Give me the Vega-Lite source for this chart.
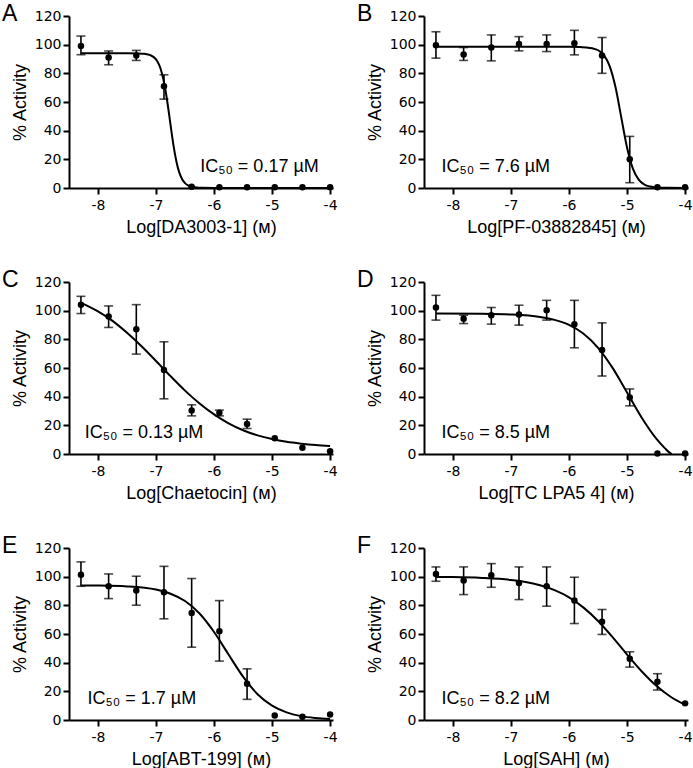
{
"$schema":"https://vega.github.io/schema/vega-lite/v6.json",
"background":"white",
"padding":{"left":2,"top":3,"right":0,"bottom":0},
"columns":2,
"spacing":{"row":33,"column":19},
"datasets":{
"pts":[
{"p":"A","x":-8.294,"y":99,"lo":93,"hi":106},
{"p":"A","x":-7.817,"y":91,"lo":86,"hi":95.6},
{"p":"A","x":-7.34,"y":92.5,"lo":89,"hi":96},
{"p":"A","x":-6.863,"y":71,"lo":62,"hi":79},
{"p":"A","x":-6.386,"y":0.8},
{"p":"A","x":-5.908,"y":0.5},
{"p":"A","x":-5.431,"y":0.5},
{"p":"A","x":-4.954,"y":0.5},
{"p":"A","x":-4.477,"y":0.5},
{"p":"A","x":-4.0,"y":0.5},
{"p":"B","x":-8.294,"y":99.6,"lo":90.6,"hi":109},
{"p":"B","x":-7.817,"y":93.2,"lo":89,"hi":98},
{"p":"B","x":-7.34,"y":98,"lo":88.7,"hi":106.8},
{"p":"B","x":-6.863,"y":100.5,"lo":95.7,"hi":105.6},
{"p":"B","x":-6.386,"y":100.5,"lo":95.2,"hi":106.8},
{"p":"B","x":-5.908,"y":101,"lo":92.9,"hi":110},
{"p":"B","x":-5.431,"y":92.5,"lo":80,"hi":105},
{"p":"B","x":-4.954,"y":20,"lo":3.7,"hi":36},
{"p":"B","x":-4.477,"y":0.5},
{"p":"B","x":-4.0,"y":0.5},
{"p":"C","x":-8.294,"y":104.2,"lo":98,"hi":110},
{"p":"C","x":-7.817,"y":96,"lo":88.3,"hi":103.3},
{"p":"C","x":-7.34,"y":87,"lo":69.7,"hi":104.2},
{"p":"C","x":-6.863,"y":58.6,"lo":38.5,"hi":78.3},
{"p":"C","x":-6.386,"y":30.3,"lo":26.6,"hi":34.3},
{"p":"C","x":-5.908,"y":28.7,"lo":26.6,"hi":30.6},
{"p":"C","x":-5.431,"y":21,"lo":17.8,"hi":24.3},
{"p":"C","x":-4.954,"y":11},
{"p":"C","x":-4.477,"y":4.4},
{"p":"C","x":-4.0,"y":2},
{"p":"D","x":-8.294,"y":102.2,"lo":93.4,"hi":110.7},
{"p":"D","x":-7.817,"y":94.3,"lo":91,"hi":96.8},
{"p":"D","x":-7.34,"y":96.8,"lo":90.6,"hi":102.2},
{"p":"D","x":-6.863,"y":97.3,"lo":89.9,"hi":103.8},
{"p":"D","x":-6.386,"y":100.3,"lo":93.4,"hi":107.2},
{"p":"D","x":-5.908,"y":90.6,"lo":74.1,"hi":107.2},
{"p":"D","x":-5.431,"y":72.5,"lo":54.4,"hi":91.5},
{"p":"D","x":-4.954,"y":39.4,"lo":33.6,"hi":45.4},
{"p":"D","x":-4.477,"y":0.3},
{"p":"D","x":-4.0,"y":0.3},
{"p":"E","x":-8.294,"y":101.4,"lo":93.3,"hi":110.3},
{"p":"E","x":-7.817,"y":93.3,"lo":84.7,"hi":101.9},
{"p":"E","x":-7.34,"y":90.3,"lo":80.1,"hi":100.3},
{"p":"E","x":-6.863,"y":89.1,"lo":70.6,"hi":107.2},
{"p":"E","x":-6.386,"y":74.7,"lo":50.8,"hi":98.7},
{"p":"E","x":-5.908,"y":62,"lo":41.1,"hi":83.3},
{"p":"E","x":-5.431,"y":25.3,"lo":14.4,"hi":35.7},
{"p":"E","x":-4.954,"y":3.2},
{"p":"E","x":-4.477,"y":2.3},
{"p":"E","x":-4.0,"y":3.9},
{"p":"F","x":-8.294,"y":101.9,"lo":96.8,"hi":106.8},
{"p":"F","x":-7.817,"y":97.3,"lo":87.5,"hi":106.8},
{"p":"F","x":-7.34,"y":101,"lo":92.6,"hi":109.1},
{"p":"F","x":-6.863,"y":95.6,"lo":84,"hi":106.8},
{"p":"F","x":-6.386,"y":93.3,"lo":79.4,"hi":106.8},
{"p":"F","x":-5.908,"y":83.3,"lo":67.3,"hi":99.6},
{"p":"F","x":-5.431,"y":68.5,"lo":59.7,"hi":77.1},
{"p":"F","x":-4.954,"y":42.7,"lo":36.9,"hi":47.6},
{"p":"F","x":-4.477,"y":26.7,"lo":20.9,"hi":32.3},
{"p":"F","x":-4.0,"y":11.6}
],
"crv":[
{"p":"A","x":-8.29,"y":94},{"p":"A","x":-7.8,"y":94},{"p":"A","x":-7.5,"y":94},{"p":"A","x":-7.3,"y":93.9},{"p":"A","x":-7.2,"y":93.6},{"p":"A","x":-7.1,"y":92.7},{"p":"A","x":-7.0,"y":89.7},{"p":"A","x":-6.95,"y":86.2},{"p":"A","x":-6.9,"y":80.3},{"p":"A","x":-6.85,"y":71.2},{"p":"A","x":-6.8,"y":58.6},{"p":"A","x":-6.75,"y":44.0},{"p":"A","x":-6.7,"y":29.9},{"p":"A","x":-6.65,"y":18.7},{"p":"A","x":-6.6,"y":10.9},{"p":"A","x":-6.55,"y":6.1},{"p":"A","x":-6.5,"y":3.4},{"p":"A","x":-6.45,"y":1.8},{"p":"A","x":-6.4,"y":1.0},{"p":"A","x":-6.3,"y":0.3},{"p":"A","x":-6.2,"y":0.1},{"p":"A","x":-6.0,"y":0},{"p":"A","x":-5.0,"y":0},{"p":"A","x":-4.0,"y":0},
{"p":"B","x":-8.29,"y":98.5},{"p":"B","x":-7.0,"y":98.5},{"p":"B","x":-6.0,"y":98.5},{"p":"B","x":-5.8,"y":98.3},{"p":"B","x":-5.7,"y":98.1},{"p":"B","x":-5.6,"y":97.5},{"p":"B","x":-5.5,"y":96.1},{"p":"B","x":-5.4,"y":92.7},{"p":"B","x":-5.3,"y":85.0},{"p":"B","x":-5.2,"y":70.4},{"p":"B","x":-5.1,"y":49.3},{"p":"B","x":-5.0,"y":28.1},{"p":"B","x":-4.9,"y":13.5},{"p":"B","x":-4.8,"y":5.9},{"p":"B","x":-4.7,"y":2.4},{"p":"B","x":-4.6,"y":1.0},{"p":"B","x":-4.5,"y":0.4},{"p":"B","x":-4.3,"y":0.1},{"p":"B","x":-4.0,"y":0},
{"p":"C","x":-8.29,"y":105.5},{"p":"C","x":-8.0,"y":99.5},{"p":"C","x":-7.75,"y":92.9},{"p":"C","x":-7.5,"y":84.6},{"p":"C","x":-7.25,"y":75.2},{"p":"C","x":-7.0,"y":64.9},{"p":"C","x":-6.75,"y":54.3},{"p":"C","x":-6.5,"y":44.2},{"p":"C","x":-6.25,"y":35.2},{"p":"C","x":-6.0,"y":27.6},{"p":"C","x":-5.75,"y":21.4},{"p":"C","x":-5.5,"y":16.6},{"p":"C","x":-5.25,"y":13.0},{"p":"C","x":-5.0,"y":10.4},{"p":"C","x":-4.75,"y":8.5},{"p":"C","x":-4.5,"y":7.2},{"p":"C","x":-4.25,"y":6.2},{"p":"C","x":-4.0,"y":5.5},
{"p":"D","x":-8.29,"y":98.0},{"p":"D","x":-7.5,"y":97.8},{"p":"D","x":-7.0,"y":97.3},{"p":"D","x":-6.5,"y":95.6},{"p":"D","x":-6.25,"y":93.6},{"p":"D","x":-6.0,"y":90.1},{"p":"D","x":-5.75,"y":83.9},{"p":"D","x":-5.5,"y":74.1},{"p":"D","x":-5.25,"y":60.1},{"p":"D","x":-5.0,"y":42.9},{"p":"D","x":-4.75,"y":25.5},{"p":"D","x":-4.5,"y":10.9},{"p":"D","x":-4.35,"y":4.1},{"p":"D","x":-4.25,"y":0.4},{"p":"D","x":-4.23,"y":0},
{"p":"E","x":-8.29,"y":93.9},{"p":"E","x":-8.0,"y":93.8},{"p":"E","x":-7.5,"y":93.2},{"p":"E","x":-7.0,"y":91.0},{"p":"E","x":-6.75,"y":88.1},{"p":"E","x":-6.5,"y":83.0},{"p":"E","x":-6.25,"y":74.3},{"p":"E","x":-6.0,"y":61.4},{"p":"E","x":-5.75,"y":45.7},{"p":"E","x":-5.5,"y":30.2},{"p":"E","x":-5.25,"y":18.0},{"p":"E","x":-5.0,"y":10.0},{"p":"E","x":-4.75,"y":5.3},{"p":"E","x":-4.5,"y":2.7},{"p":"E","x":-4.25,"y":1.4},{"p":"E","x":-4.0,"y":0.7},
{"p":"F","x":-8.29,"y":99.8},{"p":"F","x":-8.0,"y":99.7},{"p":"F","x":-7.5,"y":99.1},{"p":"F","x":-7.0,"y":97.7},{"p":"F","x":-6.75,"y":96.3},{"p":"F","x":-6.5,"y":94.0},{"p":"F","x":-6.25,"y":90.6},{"p":"F","x":-6.0,"y":85.6},{"p":"F","x":-5.75,"y":78.4},{"p":"F","x":-5.5,"y":69.1},{"p":"F","x":-5.25,"y":57.8},{"p":"F","x":-5.0,"y":45.6},{"p":"F","x":-4.75,"y":34.0},{"p":"F","x":-4.5,"y":24.0},{"p":"F","x":-4.25,"y":16.2},{"p":"F","x":-4.0,"y":10.6}
]
},
"concat":[
{"width":264,"height":172,"title":"A",
 "encoding":{"x":{"field":"x","type":"quantitative","scale":{"domain":[-8.5,-3.95],"nice":false,"zero":false},"axis":{"values":[-8,-7,-6,-5,-4],"labelExpr":"'' + datum.value"},"title":"Log[DA3003-1] (ᴍ)"}},
 "layer":[
  {"data":{"name":"pts"},"transform":[{"filter":{"field":"p","equal":"A"}}],"mark":{"type":"rule","strokeWidth":1.6,"color":"#000"},"encoding":{"y":{"field":"lo","type":"quantitative","scale":{"domain":[0,120],"nice":false},"axis":{"values":[0,20,40,60,80,100,120],"labelOverlap":false},"title":"% Activity"},"y2":{"field":"hi"}}},
  {"data":{"name":"pts"},"transform":[{"filter":{"field":"p","equal":"A"}}],"mark":{"type":"tick","orient":"horizontal","size":9,"thickness":1.6,"color":"#000"},"encoding":{"y":{"field":"lo","type":"quantitative","scale":{"domain":[0,120],"nice":false},"axis":{"values":[0,20,40,60,80,100,120],"labelOverlap":false},"title":"% Activity"}}},
  {"data":{"name":"pts"},"transform":[{"filter":{"field":"p","equal":"A"}}],"mark":{"type":"tick","orient":"horizontal","size":9,"thickness":1.6,"color":"#000"},"encoding":{"y":{"field":"hi","type":"quantitative","scale":{"domain":[0,120],"nice":false},"axis":{"values":[0,20,40,60,80,100,120],"labelOverlap":false},"title":"% Activity"}}},
  {"data":{"name":"crv"},"transform":[{"filter":{"field":"p","equal":"A"}}],"mark":{"type":"line","color":"#000","strokeWidth":2,"interpolate":"monotone"},"encoding":{"y":{"field":"y","type":"quantitative","scale":{"domain":[0,120],"nice":false},"axis":{"values":[0,20,40,60,80,100,120],"labelOverlap":false},"title":"% Activity"}}},
  {"data":{"name":"pts"},"transform":[{"filter":{"field":"p","equal":"A"}}],"mark":{"type":"point","filled":true,"size":42,"color":"#000","opacity":1},"encoding":{"y":{"field":"y","type":"quantitative","scale":{"domain":[0,120],"nice":false},"axis":{"values":[0,20,40,60,80,100,120],"labelOverlap":false},"title":"% Activity"}}},
  {"data":{"values":[{"x":-6.24,"y":15,"t":"IC₅₀ = 0.17 µM"}]},"mark":{"type":"text","align":"left","baseline":"middle","font":"Liberation Sans","fontSize":18,"color":"#000"},"encoding":{"y":{"field":"y","type":"quantitative","scale":{"domain":[0,120],"nice":false},"axis":{"values":[0,20,40,60,80,100,120],"labelOverlap":false},"title":"% Activity"},"text":{"field":"t"}}}
 ]},
{"width":264,"height":172,"title":"B",
 "encoding":{"x":{"field":"x","type":"quantitative","scale":{"domain":[-8.5,-3.95],"nice":false,"zero":false},"axis":{"values":[-8,-7,-6,-5,-4],"labelExpr":"'' + datum.value"},"title":"Log[PF-03882845] (ᴍ)"}},
 "layer":[
  {"data":{"name":"pts"},"transform":[{"filter":{"field":"p","equal":"B"}}],"mark":{"type":"rule","strokeWidth":1.6,"color":"#000"},"encoding":{"y":{"field":"lo","type":"quantitative","scale":{"domain":[0,120],"nice":false},"axis":{"values":[0,20,40,60,80,100,120],"labelOverlap":false},"title":"% Activity"},"y2":{"field":"hi"}}},
  {"data":{"name":"pts"},"transform":[{"filter":{"field":"p","equal":"B"}}],"mark":{"type":"tick","orient":"horizontal","size":9,"thickness":1.6,"color":"#000"},"encoding":{"y":{"field":"lo","type":"quantitative","scale":{"domain":[0,120],"nice":false},"axis":{"values":[0,20,40,60,80,100,120],"labelOverlap":false},"title":"% Activity"}}},
  {"data":{"name":"pts"},"transform":[{"filter":{"field":"p","equal":"B"}}],"mark":{"type":"tick","orient":"horizontal","size":9,"thickness":1.6,"color":"#000"},"encoding":{"y":{"field":"hi","type":"quantitative","scale":{"domain":[0,120],"nice":false},"axis":{"values":[0,20,40,60,80,100,120],"labelOverlap":false},"title":"% Activity"}}},
  {"data":{"name":"crv"},"transform":[{"filter":{"field":"p","equal":"B"}}],"mark":{"type":"line","color":"#000","strokeWidth":2,"interpolate":"monotone"},"encoding":{"y":{"field":"y","type":"quantitative","scale":{"domain":[0,120],"nice":false},"axis":{"values":[0,20,40,60,80,100,120],"labelOverlap":false},"title":"% Activity"}}},
  {"data":{"name":"pts"},"transform":[{"filter":{"field":"p","equal":"B"}}],"mark":{"type":"point","filled":true,"size":42,"color":"#000","opacity":1},"encoding":{"y":{"field":"y","type":"quantitative","scale":{"domain":[0,120],"nice":false},"axis":{"values":[0,20,40,60,80,100,120],"labelOverlap":false},"title":"% Activity"}}},
  {"data":{"values":[{"x":-8.2,"y":15,"t":"IC₅₀ = 7.6 µM"}]},"mark":{"type":"text","align":"left","baseline":"middle","font":"Liberation Sans","fontSize":18,"color":"#000"},"encoding":{"y":{"field":"y","type":"quantitative","scale":{"domain":[0,120],"nice":false},"axis":{"values":[0,20,40,60,80,100,120],"labelOverlap":false},"title":"% Activity"},"text":{"field":"t"}}}
 ]},
{"width":264,"height":172,"title":"C",
 "encoding":{"x":{"field":"x","type":"quantitative","scale":{"domain":[-8.5,-3.95],"nice":false,"zero":false},"axis":{"values":[-8,-7,-6,-5,-4],"labelExpr":"'' + datum.value"},"title":"Log[Chaetocin] (ᴍ)"}},
 "layer":[
  {"data":{"name":"pts"},"transform":[{"filter":{"field":"p","equal":"C"}}],"mark":{"type":"rule","strokeWidth":1.6,"color":"#000"},"encoding":{"y":{"field":"lo","type":"quantitative","scale":{"domain":[0,120],"nice":false},"axis":{"values":[0,20,40,60,80,100,120],"labelOverlap":false},"title":"% Activity"},"y2":{"field":"hi"}}},
  {"data":{"name":"pts"},"transform":[{"filter":{"field":"p","equal":"C"}}],"mark":{"type":"tick","orient":"horizontal","size":9,"thickness":1.6,"color":"#000"},"encoding":{"y":{"field":"lo","type":"quantitative","scale":{"domain":[0,120],"nice":false},"axis":{"values":[0,20,40,60,80,100,120],"labelOverlap":false},"title":"% Activity"}}},
  {"data":{"name":"pts"},"transform":[{"filter":{"field":"p","equal":"C"}}],"mark":{"type":"tick","orient":"horizontal","size":9,"thickness":1.6,"color":"#000"},"encoding":{"y":{"field":"hi","type":"quantitative","scale":{"domain":[0,120],"nice":false},"axis":{"values":[0,20,40,60,80,100,120],"labelOverlap":false},"title":"% Activity"}}},
  {"data":{"name":"crv"},"transform":[{"filter":{"field":"p","equal":"C"}}],"mark":{"type":"line","color":"#000","strokeWidth":2,"interpolate":"monotone"},"encoding":{"y":{"field":"y","type":"quantitative","scale":{"domain":[0,120],"nice":false},"axis":{"values":[0,20,40,60,80,100,120],"labelOverlap":false},"title":"% Activity"}}},
  {"data":{"name":"pts"},"transform":[{"filter":{"field":"p","equal":"C"}}],"mark":{"type":"point","filled":true,"size":42,"color":"#000","opacity":1},"encoding":{"y":{"field":"y","type":"quantitative","scale":{"domain":[0,120],"nice":false},"axis":{"values":[0,20,40,60,80,100,120],"labelOverlap":false},"title":"% Activity"}}},
  {"data":{"values":[{"x":-8.23,"y":15,"t":"IC₅₀ = 0.13 µM"}]},"mark":{"type":"text","align":"left","baseline":"middle","font":"Liberation Sans","fontSize":18,"color":"#000"},"encoding":{"y":{"field":"y","type":"quantitative","scale":{"domain":[0,120],"nice":false},"axis":{"values":[0,20,40,60,80,100,120],"labelOverlap":false},"title":"% Activity"},"text":{"field":"t"}}}
 ]},
{"width":264,"height":172,"title":"D",
 "encoding":{"x":{"field":"x","type":"quantitative","scale":{"domain":[-8.5,-3.95],"nice":false,"zero":false},"axis":{"values":[-8,-7,-6,-5,-4],"labelExpr":"'' + datum.value"},"title":"Log[TC LPA5 4] (ᴍ)"}},
 "layer":[
  {"data":{"name":"pts"},"transform":[{"filter":{"field":"p","equal":"D"}}],"mark":{"type":"rule","strokeWidth":1.6,"color":"#000"},"encoding":{"y":{"field":"lo","type":"quantitative","scale":{"domain":[0,120],"nice":false},"axis":{"values":[0,20,40,60,80,100,120],"labelOverlap":false},"title":"% Activity"},"y2":{"field":"hi"}}},
  {"data":{"name":"pts"},"transform":[{"filter":{"field":"p","equal":"D"}}],"mark":{"type":"tick","orient":"horizontal","size":9,"thickness":1.6,"color":"#000"},"encoding":{"y":{"field":"lo","type":"quantitative","scale":{"domain":[0,120],"nice":false},"axis":{"values":[0,20,40,60,80,100,120],"labelOverlap":false},"title":"% Activity"}}},
  {"data":{"name":"pts"},"transform":[{"filter":{"field":"p","equal":"D"}}],"mark":{"type":"tick","orient":"horizontal","size":9,"thickness":1.6,"color":"#000"},"encoding":{"y":{"field":"hi","type":"quantitative","scale":{"domain":[0,120],"nice":false},"axis":{"values":[0,20,40,60,80,100,120],"labelOverlap":false},"title":"% Activity"}}},
  {"data":{"name":"crv"},"transform":[{"filter":{"field":"p","equal":"D"}}],"mark":{"type":"line","color":"#000","strokeWidth":2,"interpolate":"monotone"},"encoding":{"y":{"field":"y","type":"quantitative","scale":{"domain":[0,120],"nice":false},"axis":{"values":[0,20,40,60,80,100,120],"labelOverlap":false},"title":"% Activity"}}},
  {"data":{"name":"pts"},"transform":[{"filter":{"field":"p","equal":"D"}}],"mark":{"type":"point","filled":true,"size":42,"color":"#000","opacity":1},"encoding":{"y":{"field":"y","type":"quantitative","scale":{"domain":[0,120],"nice":false},"axis":{"values":[0,20,40,60,80,100,120],"labelOverlap":false},"title":"% Activity"}}},
  {"data":{"values":[{"x":-8.2,"y":15,"t":"IC₅₀ = 8.5 µM"}]},"mark":{"type":"text","align":"left","baseline":"middle","font":"Liberation Sans","fontSize":18,"color":"#000"},"encoding":{"y":{"field":"y","type":"quantitative","scale":{"domain":[0,120],"nice":false},"axis":{"values":[0,20,40,60,80,100,120],"labelOverlap":false},"title":"% Activity"},"text":{"field":"t"}}}
 ]},
{"width":264,"height":172,"title":"E",
 "encoding":{"x":{"field":"x","type":"quantitative","scale":{"domain":[-8.5,-3.95],"nice":false,"zero":false},"axis":{"values":[-8,-7,-6,-5,-4],"labelExpr":"'' + datum.value"},"title":"Log[ABT-199] (ᴍ)"}},
 "layer":[
  {"data":{"name":"pts"},"transform":[{"filter":{"field":"p","equal":"E"}}],"mark":{"type":"rule","strokeWidth":1.6,"color":"#000"},"encoding":{"y":{"field":"lo","type":"quantitative","scale":{"domain":[0,120],"nice":false},"axis":{"values":[0,20,40,60,80,100,120],"labelOverlap":false},"title":"% Activity"},"y2":{"field":"hi"}}},
  {"data":{"name":"pts"},"transform":[{"filter":{"field":"p","equal":"E"}}],"mark":{"type":"tick","orient":"horizontal","size":9,"thickness":1.6,"color":"#000"},"encoding":{"y":{"field":"lo","type":"quantitative","scale":{"domain":[0,120],"nice":false},"axis":{"values":[0,20,40,60,80,100,120],"labelOverlap":false},"title":"% Activity"}}},
  {"data":{"name":"pts"},"transform":[{"filter":{"field":"p","equal":"E"}}],"mark":{"type":"tick","orient":"horizontal","size":9,"thickness":1.6,"color":"#000"},"encoding":{"y":{"field":"hi","type":"quantitative","scale":{"domain":[0,120],"nice":false},"axis":{"values":[0,20,40,60,80,100,120],"labelOverlap":false},"title":"% Activity"}}},
  {"data":{"name":"crv"},"transform":[{"filter":{"field":"p","equal":"E"}}],"mark":{"type":"line","color":"#000","strokeWidth":2,"interpolate":"monotone"},"encoding":{"y":{"field":"y","type":"quantitative","scale":{"domain":[0,120],"nice":false},"axis":{"values":[0,20,40,60,80,100,120],"labelOverlap":false},"title":"% Activity"}}},
  {"data":{"name":"pts"},"transform":[{"filter":{"field":"p","equal":"E"}}],"mark":{"type":"point","filled":true,"size":42,"color":"#000","opacity":1},"encoding":{"y":{"field":"y","type":"quantitative","scale":{"domain":[0,120],"nice":false},"axis":{"values":[0,20,40,60,80,100,120],"labelOverlap":false},"title":"% Activity"}}},
  {"data":{"values":[{"x":-8.18,"y":15,"t":"IC₅₀ = 1.7 µM"}]},"mark":{"type":"text","align":"left","baseline":"middle","font":"Liberation Sans","fontSize":18,"color":"#000"},"encoding":{"y":{"field":"y","type":"quantitative","scale":{"domain":[0,120],"nice":false},"axis":{"values":[0,20,40,60,80,100,120],"labelOverlap":false},"title":"% Activity"},"text":{"field":"t"}}}
 ]},
{"width":264,"height":172,"title":"F",
 "encoding":{"x":{"field":"x","type":"quantitative","scale":{"domain":[-8.5,-3.95],"nice":false,"zero":false},"axis":{"values":[-8,-7,-6,-5,-4],"labelExpr":"'' + datum.value"},"title":"Log[SAH] (ᴍ)"}},
 "layer":[
  {"data":{"name":"pts"},"transform":[{"filter":{"field":"p","equal":"F"}}],"mark":{"type":"rule","strokeWidth":1.6,"color":"#000"},"encoding":{"y":{"field":"lo","type":"quantitative","scale":{"domain":[0,120],"nice":false},"axis":{"values":[0,20,40,60,80,100,120],"labelOverlap":false},"title":"% Activity"},"y2":{"field":"hi"}}},
  {"data":{"name":"pts"},"transform":[{"filter":{"field":"p","equal":"F"}}],"mark":{"type":"tick","orient":"horizontal","size":9,"thickness":1.6,"color":"#000"},"encoding":{"y":{"field":"lo","type":"quantitative","scale":{"domain":[0,120],"nice":false},"axis":{"values":[0,20,40,60,80,100,120],"labelOverlap":false},"title":"% Activity"}}},
  {"data":{"name":"pts"},"transform":[{"filter":{"field":"p","equal":"F"}}],"mark":{"type":"tick","orient":"horizontal","size":9,"thickness":1.6,"color":"#000"},"encoding":{"y":{"field":"hi","type":"quantitative","scale":{"domain":[0,120],"nice":false},"axis":{"values":[0,20,40,60,80,100,120],"labelOverlap":false},"title":"% Activity"}}},
  {"data":{"name":"crv"},"transform":[{"filter":{"field":"p","equal":"F"}}],"mark":{"type":"line","color":"#000","strokeWidth":2,"interpolate":"monotone"},"encoding":{"y":{"field":"y","type":"quantitative","scale":{"domain":[0,120],"nice":false},"axis":{"values":[0,20,40,60,80,100,120],"labelOverlap":false},"title":"% Activity"}}},
  {"data":{"name":"pts"},"transform":[{"filter":{"field":"p","equal":"F"}}],"mark":{"type":"point","filled":true,"size":42,"color":"#000","opacity":1},"encoding":{"y":{"field":"y","type":"quantitative","scale":{"domain":[0,120],"nice":false},"axis":{"values":[0,20,40,60,80,100,120],"labelOverlap":false},"title":"% Activity"}}},
  {"data":{"values":[{"x":-8.2,"y":15,"t":"IC₅₀ = 8.2 µM"}]},"mark":{"type":"text","align":"left","baseline":"middle","font":"Liberation Sans","fontSize":18,"color":"#000"},"encoding":{"y":{"field":"y","type":"quantitative","scale":{"domain":[0,120],"nice":false},"axis":{"values":[0,20,40,60,80,100,120],"labelOverlap":false},"title":"% Activity"},"text":{"field":"t"}}}
 ]}
],
"config":{
 "view":{"stroke":null},
 "axis":{"domainColor":"#000","domainWidth":2,"tickColor":"#000","tickWidth":2,"tickSize":6,"grid":false,"labelFont":"DejaVu Sans","labelFontSize":14,"labelColor":"#000","labelOverlap":false,"titleFont":"Liberation Sans","titleFontSize":18,"titleFontWeight":"normal","titleColor":"#000"},
 "axisX":{"labelPadding":4,"titlePadding":6},
 "axisY":{"labelPadding":2,"titlePadding":5},
 "title":{"anchor":"start","frame":"group","font":"Liberation Sans","fontSize":23,"fontWeight":"normal","color":"#000","dx":-67,"offset":0,"baseline":"alphabetic","dy":21}
}
}
